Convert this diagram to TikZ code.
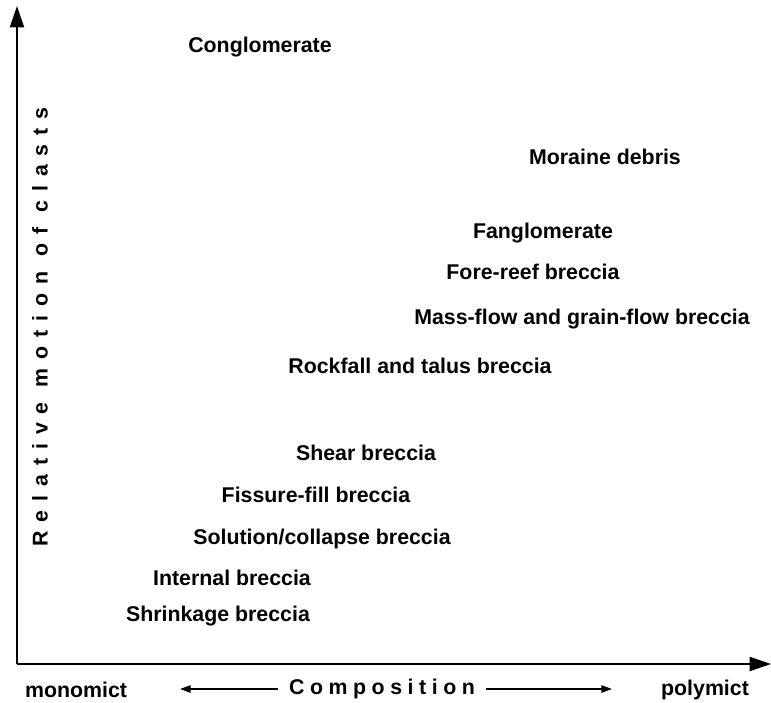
\documentclass[tikz,border=0pt]{standalone}
\usepackage{fontspec}
\setmainfont{Liberation Sans}
\usepackage{tikz}
\usetikzlibrary{arrows.meta}
\tikzset{rock/.style={font=\fontsize{16}{18}\selectfont\bfseries,inner sep=0pt}, axis/.style={-{Triangle[length=16pt,width=10.5pt]},line width=1.5pt}, hint/.style={-{Triangle[length=8pt,width=5.5pt]},line width=1.2pt}, tracked/.style={font=\fontsize{16}{18}\selectfont\bfseries\addfontfeature{LetterSpace=#1},inner sep=0pt}}

\begin{document}
\begin{tikzpicture}[x=0.75pt,y=-0.75pt]
\useasboundingbox (0,0) rectangle (771,703);
% axes
\coordinate (o) at (17,664);
\coordinate (ytip) at (17,6);
\coordinate (xtip) at (771,664);
\draw[axis] (o)--(ytip);
\draw[axis] (o)--(xtip);
\node[tracked=42,rotate=90] (ylab) at (40,327) {Relative motion of clasts};
% bottom labels
\node[rock] (mono) at (76,690) {monomict};
\node[rock] (poly) at (705,690) {polymict};
\node[tracked=26,inner sep=8pt] (comp) at (382,689) {Composition};
\coordinate (lt) at (180,689);
\coordinate (rt) at (612,689);
\draw[hint] (comp)--(lt);
\draw[hint] (comp)--(rt);
% deposits
\node[rock] (cong) at (260,47) {Conglomerate};
\node[rock] (mor) at (605,157) {Moraine debris};
\node[rock] (fang) at (543,233) {Fanglomerate};
\node[rock] (fore) at (533,272) {Fore-reef breccia};
\node[rock] (mass) at (582,319) {Mass-flow and grain-flow breccia};
\node[rock] (rockf) at (420,366) {Rockfall and talus breccia};
\node[rock] (shear) at (366,453) {Shear breccia};
\node[rock] (fiss) at (316,495) {Fissure-fill breccia};
\node[rock] (sol) at (322,539) {Solution/collapse breccia};
\node[rock] (int) at (232,578) {Internal breccia};
\node[rock] (shr) at (218,616) {Shrinkage breccia};
\end{tikzpicture}
\end{document}
